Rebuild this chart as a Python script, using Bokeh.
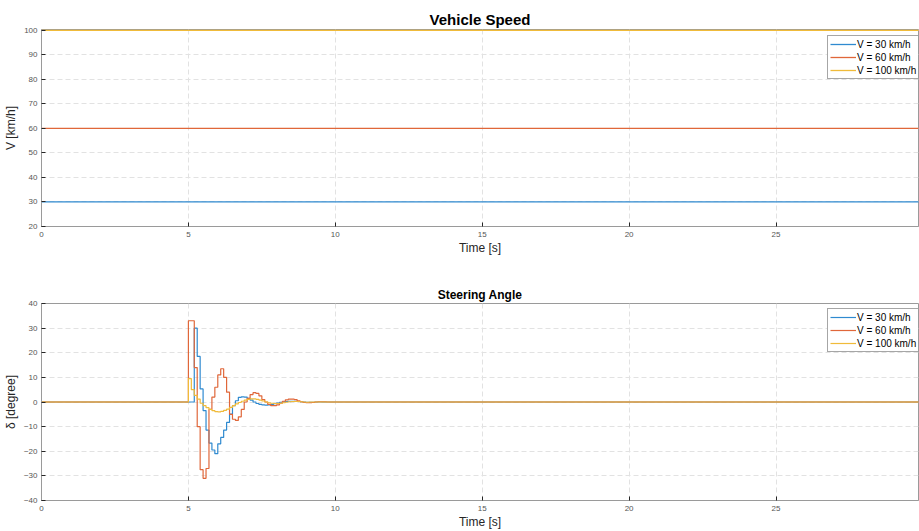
from bokeh.plotting import figure
from bokeh.layouts import column
from bokeh.models import Range1d, FixedTicker
from bokeh.embed import file_html
from bokeh.resources import INLINE

# ---------------- data ----------------
speed_time = [0.0, 30.0]
speed_30 = [30, 30]
speed_60 = [60, 60]
speed_100 = [100, 100]

steer_time = [0.0, 5.0, 5.1, 5.2, 5.3, 5.4, 5.5, 5.6, 5.7, 5.8, 5.9,
              6.0, 6.1, 6.2, 6.3, 6.4, 6.5, 6.6, 6.7, 6.8, 6.9,
              7.0, 7.1, 7.2, 7.3, 7.4, 7.5, 7.6, 7.7, 7.8, 7.9,
              8.0, 8.1, 8.2, 8.3, 8.4, 8.5, 8.6, 8.7, 8.8, 8.9,
              9.0, 9.1, 9.2, 9.3, 9.4, 9.5, 9.6, 9.7, 9.8, 9.9,
              10.0, 30.0]
steer_30 = [0, 0, 0, 30, 18.5, 5.3, -3.5, -11.4, -16.7, -19.5, -21,
            -17, -14.4, -11.4, -8.3, -4.9, -1.5, 0.5, 1.9, 2.1, 2.0,
            1.5, 0.8, 0.0, -0.6, -1.0, -1.2, -1.3, -1.2, -1.0, -0.7,
            -0.4, -0.1, 0.1, 0.2, 0.3, 0.3, 0.3, 0.2, 0.1, 0.0,
            -0.1, -0.1, -0.1, 0.0, 0.0, 0.0, 0.0, 0.0, 0.0, 0.0,
            0.0, 0.0]
steer_60 = [0, 33, 33, 14, -10, -27.5, -31, -27, -3, 2, 6,
            11, 13.5, 10, 4, -5, -7, -7.5, -6, -3, 0,
            1.5, 3, 3.8, 3.5, 2.5, 1, 0, -1, -1.5, -1.5,
            -1.2, -0.5, 0.3, 0.9, 1.2, 1.2, 1.0, 0.5, 0.1, -0.2,
            -0.3, -0.3, -0.2, 0.0, 0.1, 0.1, 0.1, 0.0, 0.0, 0.0,
            0.0, 0.0]
steer_100 = [0, 9.5, 5, 2.7, 1.2, -0.5, -1.5, -2.3, -3.0, -3.5, -3.9,
             -4.0, -3.8, -3.4, -2.9, -2.2, -1.5, -0.8, -0.2, 0.3, 0.8,
             1.1, 1.3, 1.3, 1.1, 0.8, 0.4, 0.0, -0.3, -0.5, -0.6,
             -0.6, -0.5, -0.3, -0.1, 0.1, 0.2, 0.2, 0.2, 0.1, 0.0,
             -0.1, 0.0, 0.0, 0.0, 0.0, 0.0, 0.0, 0.0, 0.0, 0.0,
             0.0, 0.0]

labels = ["V = 30 km/h", "V = 60 km/h", "V = 100 km/h"]
x_ticks = [0, 5, 10, 15, 20, 25]
speed_ticks = [20, 30, 40, 50, 60, 70, 80, 90, 100]
steer_ticks = [-40, -30, -20, -10, 0, 10, 20, 30, 40]

colors = ["#2f8ad0", "#e0673a", "#f0bb3a"]
FONT = "Liberation Sans"


def style(p, title_size, xlabel, ylabel, yticks):
    p.title.text_font = FONT
    p.title.text_font_style = "bold"
    p.title.text_font_size = title_size
    p.title.align = "center"
    p.title.text_color = "#000000"
    p.title.standoff = 3
    p.outline_line_color = "#9a9a9a"
    p.outline_line_width = 1
    p.background_fill_color = "white"
    p.border_fill_color = "white"
    for ax in (p.xaxis[0], p.yaxis[0]):
        ax.axis_line_color = "#9a9a9a"
        ax.major_tick_line_color = "#262626"
        ax.major_tick_in = 4
        ax.major_tick_out = 0
        ax.minor_tick_line_color = None
        ax.major_label_text_font = FONT
        ax.major_label_text_font_size = "8px"
        ax.major_label_text_color = "#555555"
        ax.axis_label_text_font = FONT
        ax.axis_label_text_font_style = "normal"
        ax.axis_label_text_color = "#262626"
    p.xaxis.ticker = FixedTicker(ticks=x_ticks)
    p.yaxis.ticker = FixedTicker(ticks=yticks)
    p.xaxis.axis_label = xlabel
    p.yaxis.axis_label = ylabel
    p.xaxis.axis_label_text_font_size = "12px"
    p.yaxis.axis_label_text_font_size = "12px"
    p.xaxis.major_label_standoff = 5
    p.xaxis.axis_label_standoff = 1
    p.yaxis.major_label_standoff = 4
    p.yaxis.axis_label_standoff = 3
    for g in (p.xgrid[0], p.ygrid[0]):
        g.grid_line_color = "#e2e2e2"
        g.grid_line_dash = "5 3"
        g.grid_line_width = 1
    p.xgrid.ticker = FixedTicker(ticks=x_ticks)
    p.ygrid.ticker = FixedTicker(ticks=yticks)
    lg = p.legend[0]
    lg.location = (786, 147)
    lg.margin = 0
    lg.border_line_color = "#4d4d4d"
    lg.border_line_width = 1
    lg.background_fill_alpha = 1
    lg.label_text_font = FONT
    lg.label_text_font_size = "10px"
    lg.label_text_color = "#000000"
    lg.label_height = 12
    lg.glyph_height = 12
    lg.glyph_width = 26
    lg.label_standoff = 1
    lg.spacing = 1
    lg.padding = 2


# ---------------- top: vehicle speed ----------------
p1 = figure(width=919, height=265, output_backend="svg", toolbar_location=None,
            x_range=Range1d(0, 29.85), y_range=Range1d(20, 100.3),
            title="Vehicle Speed",
            min_border_left=40, min_border_right=1,
            min_border_top=29, min_border_bottom=39)
for ys, c, lab in zip([speed_30, speed_60, speed_100], colors, labels):
    p1.line(speed_time, ys, line_color=c, line_width=1.3, legend_label=lab)
style(p1, "15px", "Time [s]", "V [km/h]", speed_ticks)

# ---------------- bottom: steering angle ----------------
p2 = figure(width=919, height=266, output_backend="svg", toolbar_location=None,
            x_range=Range1d(0, 29.85), y_range=Range1d(-40, 40),
            title="Steering Angle",
            min_border_left=40, min_border_right=1,
            min_border_top=38, min_border_bottom=31)
for ys, c, lab in zip([steer_30, steer_60, steer_100], colors, labels):
    p2.step(steer_time, ys, mode="after", line_color=c, line_width=1.2,
            legend_label=lab)
style(p2, "12px", "Time [s]", "δ [degree]", steer_ticks)
p2.legend[0].location = (786, 148)

layout = column(p1, p2, spacing=0)
open("out.html", "w").write(file_html(layout, INLINE))
